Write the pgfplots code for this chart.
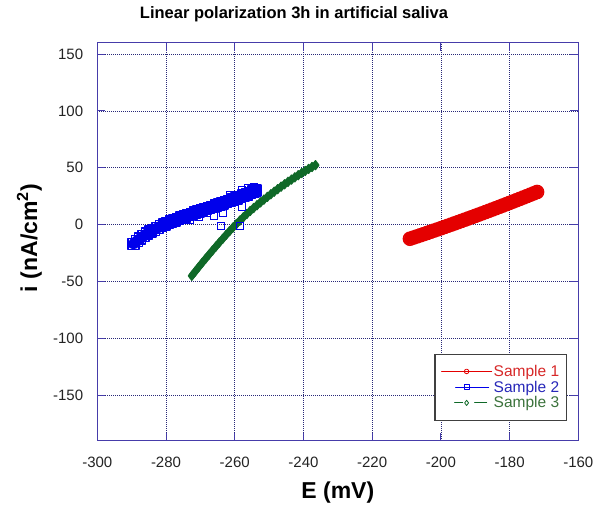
\documentclass[border=0pt]{standalone}
\usepackage{pgfplots}
\pgfplotsset{compat=1.18}
\usepackage{fontspec}
\setmainfont{Liberation Sans}
\definecolor{axblue}{RGB}{70,60,170}
\definecolor{gridblue}{RGB}{40,40,120}
\definecolor{sA}{RGB}{228,0,0}
\definecolor{sB}{RGB}{0,0,235}
\definecolor{sC}{RGB}{15,105,40}
\definecolor{tA}{RGB}{215,40,40}
\definecolor{tB}{RGB}{40,40,185}
\definecolor{tC}{RGB}{60,115,60}
\definecolor{tickgray}{RGB}{35,35,35}
\begin{document}
\begin{tikzpicture}
\useasboundingbox (-97.3bp,-69.3bp) rectangle (503.7bp,440.7bp);
\begin{axis}[
  scale only axis, width=481bp, height=398bp,
  at={(0,0)}, anchor=south west,
  xmin=-300, xmax=-160, ymin=-190, ymax=160,
  xtick={-300,-280,...,-160}, ytick={-150,-100,...,150},
  grid=major,
  major grid style={gridblue, dash pattern=on 0.8bp off 1.2bp, line width=0.6bp},
  axis line style={axblue, line width=1.1bp},
  tick style={axblue, line width=1bp}, major tick length=8bp, tick align=inside,
  /pgf/number format/assume math mode=true,
  ticklabel style={font=\fontsize{15bp}{18bp}\selectfont, text=tickgray},
  xticklabel style={anchor=base, inner sep=0pt, yshift=-26.8bp},
  yticklabel style={anchor=east, inner sep=0pt, xshift=-14bp},
  title={Linear polarization 3h in artificial saliva},
  title style={font=\fontsize{16.5bp}{20bp}\selectfont\bfseries, at={(axis description cs:0.409,1)}, anchor=base, yshift=18.7bp},
  xlabel={E (mV)},
  xlabel style={font=\fontsize{23bp}{26bp}\selectfont\bfseries, at={(axis description cs:0.5,-0.1447)}, anchor=base},
  ylabel={i (nA/cm\textsuperscript{2})},
  ylabel style={font=\fontsize{23bp}{26bp}\selectfont\bfseries, at={(axis description cs:-0.1414,0.509)}, anchor=center},
  legend cell align=left,
  legend style={at={(0.977,0.05)}, anchor=south east, draw=black!75, line width=1.1bp, fill=white,
    inner xsep=6bp, inner ysep=9.5bp, font=\fontsize{15.5bp}{17bp}\selectfont,
    nodes={inner sep=1.5bp}},
]
% Sample 1
\addplot[sA, line width=12bp, line cap=round, line join=round, mark=o, mark size=6.5bp,
  mark options={line width=1.6bp, solid},
  legend image code/.code={\path[draw=none, fill=none] (0bp,-4bp) rectangle (50bp,4bp);
    \draw[color=sA, draw=sA, fill=none, line width=1.2bp] (0bp,0bp)--(50bp,0bp);
    \draw[color=sA, draw=sA, fill=none, line width=0.8bp, mark size=2.3bp, mark options={draw=sA, line width=0.8bp, solid, fill=white}]
      plot coordinates {(25bp,0bp)};}]
coordinates {
(-209,-12.4) (-208,-11.4) (-207,-10.39) (-206,-9.37) (-205,-8.35) (-204,-7.33) (-203,-6.29)
(-202,-5.25) (-201,-4.21) (-200,-3.16) (-199,-2.1) (-198,-1.04) (-197,0.03) (-196,1.11)
(-195,2.19) (-194,3.28) (-193,4.37) (-192,5.47) (-191,6.57) (-190,7.68) (-189,8.8)
(-188,9.92) (-187,11.05) (-186,12.19) (-185,13.33) (-184,14.48) (-183,15.63) (-182,16.79)
(-181,17.95) (-180,19.12) (-179,20.3) (-178,21.48) (-177,22.67) (-176,23.87) (-175,25.07)
(-174,26.28) (-173,27.49) (-172,28.71)
};
\addlegendentry{\textcolor{tA}{Sample 1}}
% Sample 2
\addplot[sB, line width=11bp, line cap=round, line join=round, mark=square, mark size=5.5bp,
  mark options={line width=1.5bp, solid},
  legend image code/.code={\path[draw=none, fill=none] (0bp,-4bp) rectangle (50bp,4bp);
    \draw[color=sB, draw=sB, fill=none, line width=1.2bp] (14bp,0bp)--(47bp,0bp);
    \draw[color=sB, draw=sB, fill=none, line width=0.8bp, mark size=2.3bp, mark options={draw=sB, line width=0.8bp, solid, fill=white}]
      plot coordinates {(25bp,0bp)};}]
coordinates {
(-289.5,-17) (-288.5,-14.5) (-287.5,-12.2) (-286.5,-10) (-285.5,-8) (-284.5,-6.2) (-283.5,-4.5)
(-282.5,-2.9) (-281.5,-1.4) (-280.5,0) (-279.5,1.3) (-278.5,2.6) (-277.5,3.8) (-276.5,5)
(-275.5,6.2) (-274.5,7.3) (-273.5,8.4) (-272.5,9.5) (-271.5,10.6) (-270.5,11.6) (-269.5,12.7)
(-268.5,13.7) (-267.5,14.7) (-266.5,15.7) (-265.5,16.7) (-264.5,17.7) (-263.5,18.8) (-262.5,19.9)
(-261.5,21) (-260.5,22.1) (-259.5,23.2) (-258.5,24.3) (-257.5,25.5) (-256.5,26.7) (-255.5,27.9)
(-254.5,29.1) (-254,30)
};
\addlegendentry{\textcolor{tB}{Sample 2}}
% Sample 3
\addplot[sC, line width=6.5bp, line cap=round, line join=round, mark=diamond, mark size=4.5bp,
  mark options={line width=1.3bp, solid},
  legend image code/.code={\path[draw=none, fill=none] (0bp,-4bp) rectangle (50bp,4bp);
    \draw[color=sC, draw=sC, fill=none, line width=1.2bp] (13bp,0bp)--(21bp,0bp) (33bp,0bp)--(45bp,0bp);
    \draw[color=sC, draw=sC, fill=none, line width=0.8bp, mark size=2.6bp, mark options={draw=sC, line width=0.8bp, solid, fill=white}]
      plot coordinates {(25bp,0bp)};}]
coordinates {
(-272.5,-45) (-271.5,-41.2) (-270.5,-37.4) (-269.5,-33.7) (-268.5,-30) (-267.5,-26.4) (-266.5,-22.8)
(-265.5,-19.3) (-264.5,-15.8) (-263.5,-12.4) (-262.5,-9) (-261.5,-5.7) (-260.5,-2.5) (-259.5,0.6)
(-258.5,3.6) (-257.5,6.5) (-256.5,9.3) (-255.5,12) (-254.5,14.6) (-253.5,17.1) (-252.5,19.6)
(-251.5,22) (-250.5,24.4) (-249.5,26.7) (-248.5,29) (-247.5,31.2) (-246.5,33.4) (-245.5,35.5)
(-244.5,37.6) (-243.5,39.6) (-242.5,41.6) (-241.5,43.5) (-240.5,45.4) (-239.5,47.2) (-238.5,49)
(-237.5,50.7) (-236.5,52.3)
};
\addlegendentry{\textcolor{tC}{Sample 3}}
% Sample 2 scattered points
\addplot[sB, only marks, mark=square, mark size=3.6bp, mark options={line width=0.9bp}, forget plot]
coordinates {
(-273,4) (-270.5,7) (-268,10) (-266,8) (-264,-1) (-263.5,10) (-258.5,-1) (-258,16)
(-258,30) (-256,32.5) (-254.5,33) (-261.5,26)
};
\end{axis}
\end{tikzpicture}
\end{document}
